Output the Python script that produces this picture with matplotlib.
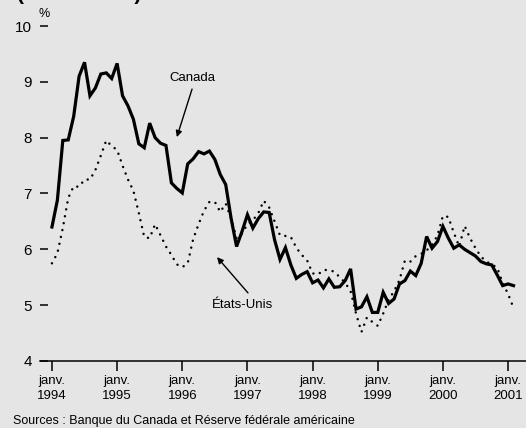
import matplotlib
matplotlib.use("Agg")
import matplotlib.pyplot as plt

plt.rcParams['font.family'] = ['Liberation Sans', 'DejaVu Sans']

years = [1994, 1995, 1996, 1997, 1998, 1999, 2000, 2001]
tick_labels = ["janv.\n%d" % y for y in years]

# Monthly 10-year bond yields (%), Jan 1994 - Feb 2001
canada = [
    6.40, 6.88, 7.95, 7.96, 8.38, 9.10, 9.35, 8.75, 8.89, 9.14, 9.16, 9.06,   # 1994
    9.33, 8.75, 8.57, 8.33, 7.89, 7.82, 8.26, 8.00, 7.90, 7.86, 7.19, 7.09,   # 1995
    7.01, 7.53, 7.62, 7.75, 7.71, 7.76, 7.61, 7.34, 7.16, 6.55, 6.05, 6.32,   # 1996
    6.62, 6.38, 6.55, 6.67, 6.66, 6.17, 5.82, 6.03, 5.72, 5.48, 5.55, 5.60,   # 1997
    5.40, 5.45, 5.31, 5.47, 5.32, 5.33, 5.44, 5.65, 4.93, 4.97, 5.15, 4.87,   # 1998
    4.87, 5.23, 5.03, 5.11, 5.38, 5.44, 5.61, 5.53, 5.75, 6.23, 6.02, 6.14,   # 1999
    6.41, 6.20, 6.02, 6.08, 6.00, 5.94, 5.88, 5.78, 5.74, 5.72, 5.54, 5.35,   # 2000
    5.38, 5.35,                                                               # 2001
]
etats_unis = [
    5.75, 5.93, 6.38, 6.92, 7.13, 7.12, 7.25, 7.25, 7.42, 7.68, 7.95, 7.85,   # 1994
    7.78, 7.50, 7.25, 7.05, 6.65, 6.22, 6.20, 6.45, 6.25, 6.05, 5.90, 5.73,   # 1995
    5.68, 5.75, 6.18, 6.45, 6.69, 6.85, 6.85, 6.67, 6.82, 6.55, 6.20, 6.28,   # 1996
    6.45, 6.52, 6.65, 6.87, 6.75, 6.50, 6.25, 6.24, 6.22, 6.03, 5.90, 5.80,   # 1997
    5.57, 5.55, 5.63, 5.63, 5.60, 5.50, 5.40, 5.25, 4.85, 4.52, 4.78, 4.70,   # 1998
    4.63, 4.85, 5.10, 5.25, 5.45, 5.80, 5.78, 5.88, 5.92, 5.98, 6.08, 6.25,   # 1999
    6.60, 6.58, 6.30, 6.05, 6.42, 6.20, 6.02, 5.87, 5.78, 5.73, 5.67, 5.40,   # 2000
    5.20, 4.95,                                                               # 2001
]

months = list(range(len(canada)))
ticks = [12 * i for i in range(len(years))]

bg = '#e5e5e5'
fig = plt.figure(figsize=(5.26, 4.28), dpi=100, facecolor=bg)
ax = fig.add_axes([40 / 526, (428 - 361) / 428, 486 / 526, (361 - 26) / 428])
ax.set_facecolor(bg)

ax.plot(months, canada, color='black', lw=2.3, solid_joinstyle='miter')
ax.plot(months, etats_unis, color='black', lw=1.8,
        linestyle=(0, (0.01, 2.8)), dash_capstyle='round')

ax.set_xlim(-2.2, 87.3)
ax.set_ylim(4, 10)
ax.set_yticks([4, 5, 6, 7, 8, 9, 10])
ax.set_xticks(ticks)
ax.set_xticklabels(tick_labels, fontsize=9.5, linespacing=1.3)

for s in ['top', 'right', 'left']:
    ax.spines[s].set_visible(False)
ax.spines['bottom'].set_linewidth(1.1)

ax.tick_params(axis='y', direction='in', length=6, width=1.1, pad=6, labelsize=11)
ax.tick_params(axis='x', direction='out', length=7, width=1.1, pad=3)

ax.text(0.008, 1.036, '%', transform=ax.transAxes, ha='center', va='center', fontsize=9)

arrow = dict(arrowstyle='-|>', color='black', lw=1.0,
             mutation_scale=9, shrinkA=0, shrinkB=0)
ax.annotate('', xy=(23.0, 8.01), xytext=(25.8, 8.87), arrowprops=arrow)
ax.text(25.8, 9.07, 'Canada', ha='center', va='center', fontsize=9.5)
ax.annotate('', xy=(30.4, 5.86), xytext=(36.1, 5.22), arrowprops=arrow)
ax.text(35.0, 5.0, 'États-Unis', ha='center', va='center', fontsize=9.5)

# title line, mostly cut off at the top edge in the reference
fig.text(17 / 526, 1 - 0.3 / 428, '(fin de mois)', ha='left', va='baseline',
         fontsize=15, fontweight='bold')

fig.text(13 / 526, (428 - 421) / 428, 'Sources : Banque du Canada et Réserve fédérale américaine',
         ha='left', va='center', fontsize=9)

fig.savefig('out.png', dpi=100, facecolor=bg)
